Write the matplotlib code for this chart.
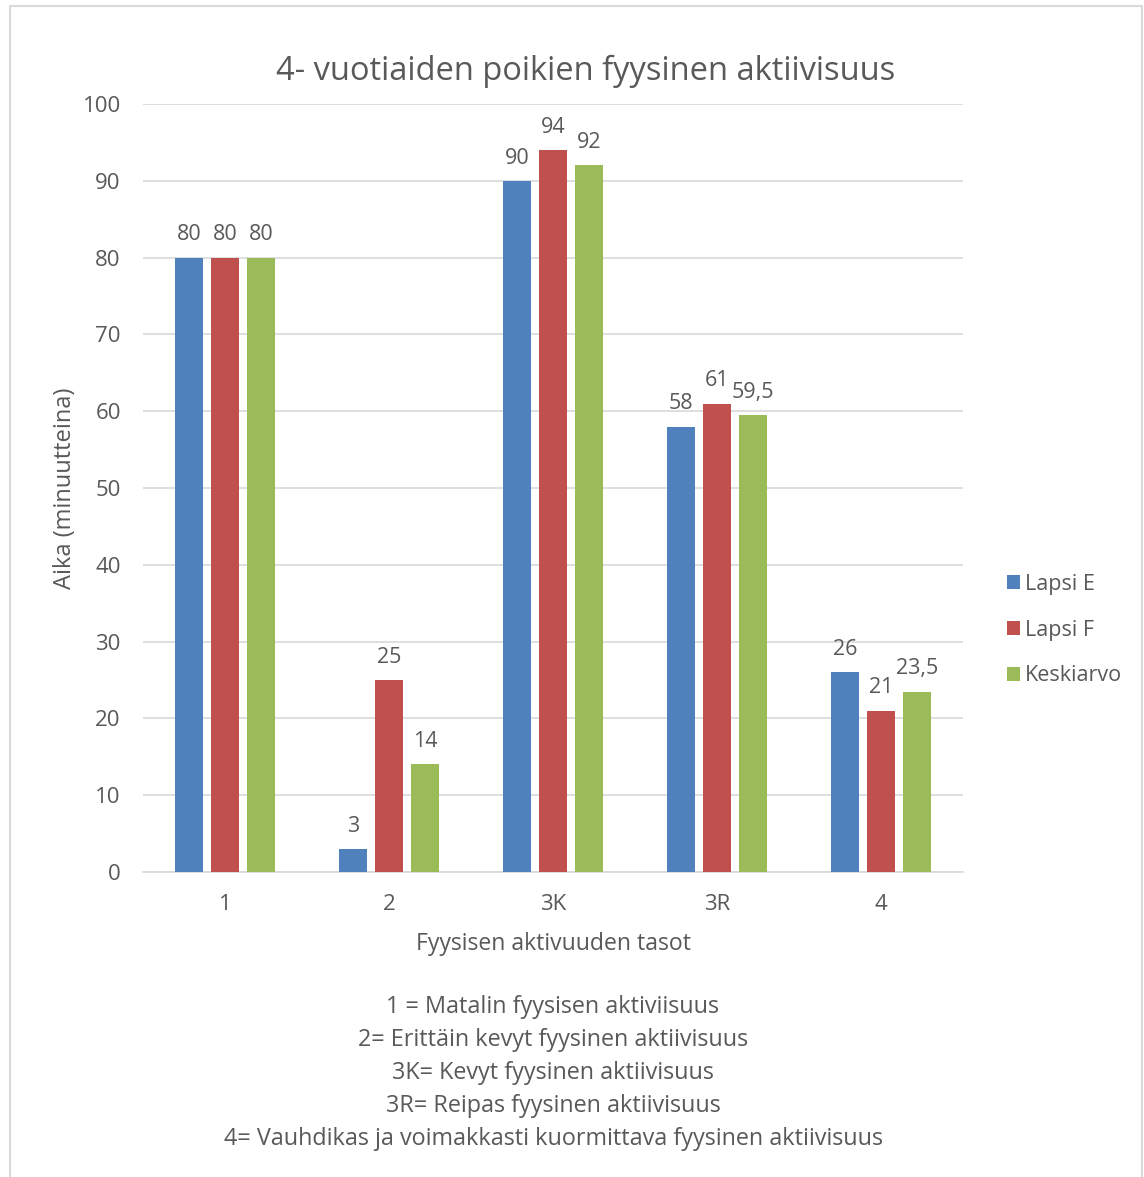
import numpy as np
import matplotlib.pyplot as plt
from matplotlib.patches import Rectangle

plt.rcParams['font.family'] = ['Open Sans', 'DejaVu Sans']

# tasot ja arvot (minuutteina)
tasot = ['1', '2', '3K', '3R', '4']
lapsi_e = [80, 3, 90, 58, 26]
lapsi_f = [80, 25, 94, 61, 21]
keskiarvo = [80, 14, 92, 59.5, 23.5]
sarjat = ['Lapsi E', 'Lapsi F', 'Keskiarvo']
selitteet = ['1 = Matalin fyysisen aktiviisuus',
             '2= Erittäin kevyt fyysinen aktiivisuus',
             '3K= Kevyt fyysinen aktiivisuus',
             '3R= Reipas fyysinen aktiivisuus',
             '4= Vauhdikas ja voimakkasti kuormittava fyysinen aktiivisuus']

varit = ['#4F81BD', '#C0504D', '#9BBB59']
harmaa = '#595959'

W, H = 1144, 1177
fig = plt.figure(figsize=(W/100, H/100), dpi=100)

# kehys kaavion ympärillä
fig.patches.append(Rectangle((10/W, -0.01), 1132/W, 1 - 6/H + 0.01,
                             transform=fig.transFigure, fill=False,
                             edgecolor='#D9D9D9', linewidth=1.5))

ax = fig.add_axes([143/W, 1 - 872/H, 820/W, 768/H])
x = np.arange(len(tasot))
lev = 28/164
siirto = 36/164

def muoto(v):
    s = ('%g' % v)
    return s.replace('.', ',')

for i, (arvot, nimi) in enumerate(zip([lapsi_e, lapsi_f, keskiarvo], sarjat)):
    pos = x + (i - 1) * siirto
    bars = ax.bar(pos, arvot, width=lev, color=varit[i], label=nimi, zorder=3)
    for p, v in zip(pos, arvot):
        ax.text(p, v + 1.6, muoto(v), ha='center', va='bottom',
                fontsize=15.5, color=harmaa)

ax.set_xlim(-0.5, 4.5)
ax.set_ylim(0, 100)
ax.set_yticks(range(0, 101, 10))
ax.set_xticks(x)
ax.set_xticklabels(tasot)
ax.grid(axis='y', color='#D9D9D9', linewidth=1.2, zorder=0)
for s in ['top', 'right', 'left']:
    ax.spines[s].set_visible(False)
ax.spines['bottom'].set_color('#D9D9D9')
ax.spines['bottom'].set_linewidth(1.2)
ax.tick_params(axis='both', length=0, labelsize=16, labelcolor=harmaa)
ax.tick_params(axis='y', pad=16)
ax.tick_params(axis='x', pad=16)

ax.set_title('4- vuotiaiden poikien fyysinen aktiivisuus', fontsize=23.5,
             color=harmaa, pad=17, x=0.54)
ax.set_ylabel('Aika (minuutteina)', fontsize=17, color=harmaa, labelpad=4)
ax.set_xlabel('Fyysisen aktivuuden tasot', fontsize=16.6, color=harmaa,
              labelpad=12)

for k, rivi in enumerate(selitteet):
    fig.text(553/W, 1 - (1007 + 33*k)/H, rivi, ha='center', va='center',
             fontsize=16.8, color=harmaa)

leg = ax.legend(loc='center left', bbox_to_anchor=(1.03, 0.315), frameon=False,
                fontsize=15.5, labelcolor=harmaa, handlelength=0.6,
                handleheight=0.6, handletextpad=0.25, labelspacing=1.15)

fig.savefig('out.png', dpi=100)
